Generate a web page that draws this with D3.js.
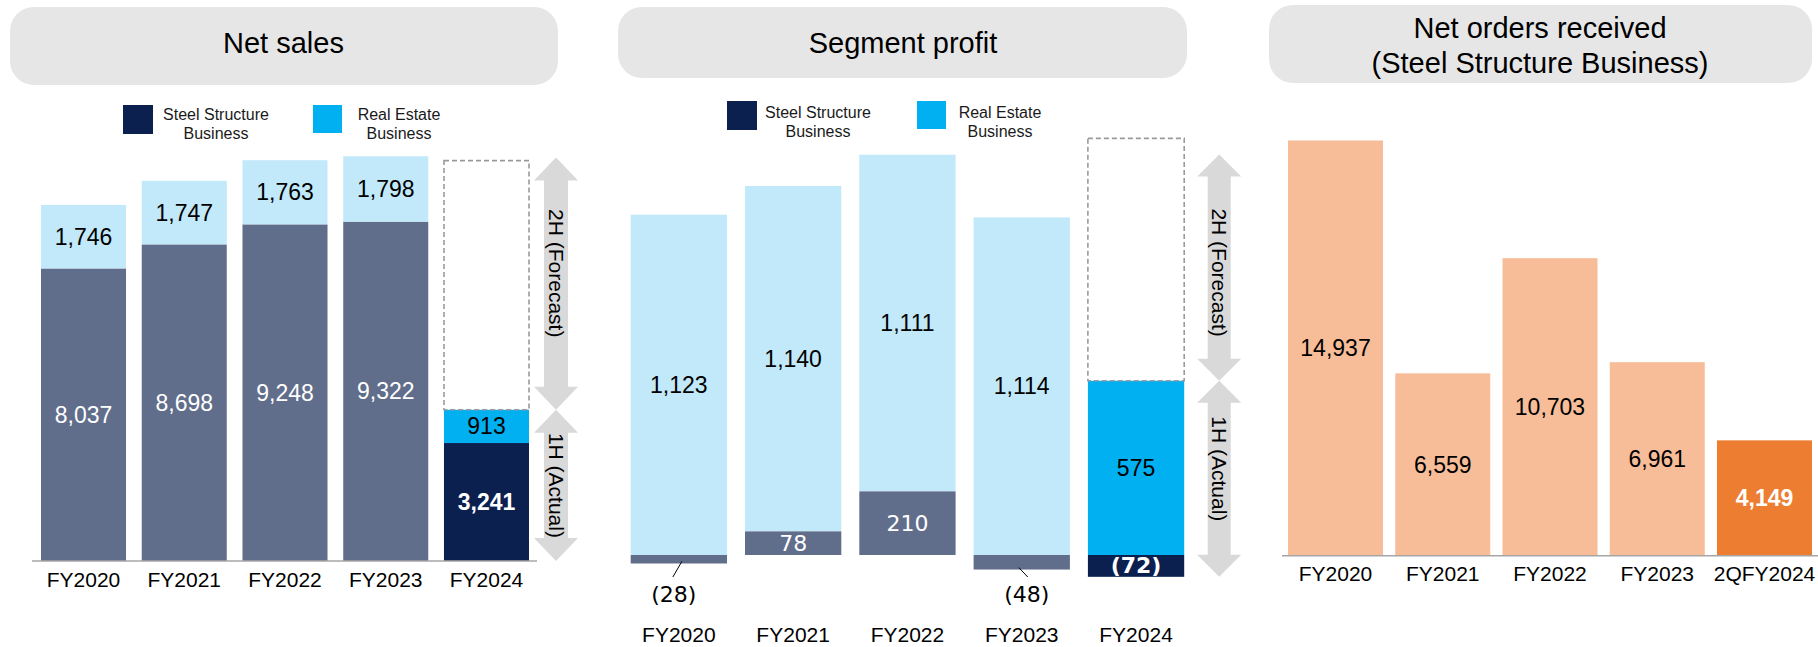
<!DOCTYPE html>
<html><head><meta charset="utf-8">
<script src="https://cdn.jsdelivr.net/npm/d3@7"></script>
<style>
body{margin:0;background:#fff}
svg{display:block;font-family:"Liberation Sans",Arial,sans-serif}
</style>
</head><body>
<svg id="c" width="1818" height="647"></svg>
<script>
// ---------- data ----------
const categories = ["FY2020", "FY2021", "FY2022", "FY2023", "FY2024"];
const salesSteel = [8037, 8698, 9248, 9322, 3241];
const salesRealEstate = [1746, 1747, 1763, 1798, 913];
const salesForecastTotal = 11000;
const profitSteel = [-28, 78, 210, -48, -72];
const profitRealEstate = [1123, 1140, 1111, 1114, 575];
const profitForecastTop = 1375;
const orderCategories = ["FY2020", "FY2021", "FY2022", "FY2023", "2QFY2024"];
const orders = [14937, 6559, 10703, 6961, 4149];
const legendSteel = ["Steel Structure", "Business"];
const legendRealEstate = ["Real Estate", "Business"];
const halfLabels = ["2H (Forecast)", "1H (Actual)"];
const titleSales = ["Net sales"];
const titleProfit = ["Segment profit"];
const titleOrders = ["Net orders received", "(Steel Structure Business)"];

// ---------- styles ----------
const C = {
  steelPast: "#616e8b", rePast: "#c1e9f9",
  steelNow: "#0c2050", reNow: "#00b0f0",
  ordPast: "#f6bd98", ordNow: "#ed7d31",
  box: "#e6e6e6", arrow: "#d9d9d9", axis: "#a6a6a6", dash: "#9a9a9a"
};
const fmt = v => v < 0 ? "(" + d3.format(",")(-v) + ")" : d3.format(",")(v);
const svg = d3.select("#c");
const last = categories.length - 1;

function titleBox(x, y, w, h, cx, lines, lineYs) {
  svg.append("rect").attr("x", x).attr("y", y).attr("width", w).attr("height", h)
    .attr("rx", 24).attr("ry", 24).attr("fill", C.box);
  lines.forEach((t, i) => svg.append("text").attr("x", cx).attr("y", lineYs[i])
    .attr("text-anchor", "middle").attr("dominant-baseline", "central")
    .attr("font-size", 29).attr("fill", "#000").text(t));
}
function legendItem(sx, sy, sw, sh, color, tx, lines, ty) {
  svg.append("rect").attr("x", sx).attr("y", sy).attr("width", sw).attr("height", sh).attr("fill", color);
  lines.forEach((t, i) => svg.append("text").attr("x", tx).attr("y", ty + i * 19)
    .attr("text-anchor", "middle").attr("dominant-baseline", "central")
    .attr("font-size", 16).attr("fill", "#1a1a1a").text(t));
}
function dblArrow(cx, yTop, yBot, shaftW, headW, headL) {
  const s = shaftW / 2, h = headW / 2;
  const pts = [[cx, yTop], [cx + h, yTop + headL], [cx + s, yTop + headL], [cx + s, yBot - headL],
    [cx + h, yBot - headL], [cx, yBot], [cx - h, yBot - headL], [cx - s, yBot - headL],
    [cx - s, yTop + headL], [cx - h, yTop + headL]];
  svg.append("polygon").attr("points", pts.map(p => p.join(",")).join(" ")).attr("fill", C.arrow);
}
function vertLabel(cx, cy, t) {
  svg.append("text").attr("transform", `translate(${cx},${cy}) rotate(90)`)
    .attr("text-anchor", "middle").attr("dominant-baseline", "central")
    .attr("font-size", 21).attr("fill", "#000").text(t);
}
function valueText(g, x, y, t, opts) {
  g.append("text").attr("x", x).attr("y", y)
    .attr("text-anchor", "middle").attr("dominant-baseline", "central")
    .attr("font-size", opts.size || 23).attr("font-weight", opts.bold ? "bold" : null)
    .attr("font-family", opts.family || null)
    .attr("fill", opts.fill || "#000").text(t);
}
function catAxis(x, yPos, offset, lineFrom, lineTo) {
  const g = svg.append("g").attr("transform", `translate(0,${yPos})`)
    .call(d3.axisBottom(x).tickSize(0));
  g.select(".domain").remove();
  g.selectAll("text").attr("y", offset).attr("dy", null)
    .attr("dominant-baseline", "central").attr("font-size", 21)
    .attr("font-family", '"Liberation Sans",Arial,sans-serif').attr("fill", "#000");
  if (lineFrom != null) {
    svg.append("line").attr("x1", lineFrom).attr("x2", lineTo).attr("y1", yPos).attr("y2", yPos)
      .attr("stroke", C.axis).attr("stroke-width", 1.5);
  }
}

// ---------- Panel 1 : Net sales ----------
titleBox(10, 7, 548, 78, 283.5, titleSales, [43]);
legendItem(123, 105, 30, 29, C.steelNow, 216, legendSteel, 114);
legendItem(313, 105, 29, 28, C.reNow, 399, legendRealEstate, 114);

const x1 = d3.scaleBand().domain(categories).range([41, 529]).paddingInner(0.156).paddingOuter(0);
const y1 = d3.scaleLinear().domain([0, 15000]).range([561, 561 - 15000 * 0.0364]);
const g1 = svg.append("g");
categories.forEach((c, i) => {
  const now = i === last;
  const s = salesSteel[i], r = salesRealEstate[i];
  g1.append("rect").attr("x", x1(c)).attr("width", x1.bandwidth())
    .attr("y", y1(s)).attr("height", y1(0) - y1(s)).attr("fill", now ? C.steelNow : C.steelPast);
  g1.append("rect").attr("x", x1(c)).attr("width", x1.bandwidth())
    .attr("y", y1(s + r)).attr("height", y1(s) - y1(s + r)).attr("fill", now ? C.reNow : C.rePast);
  const cx = x1(c) + x1.bandwidth() / 2;
  valueText(g1, cx, (y1(0) + y1(s)) / 2, fmt(s), { fill: "#fff", bold: now });
  valueText(g1, cx, (y1(s) + y1(s + r)) / 2, fmt(r), {});
  if (now) {
    g1.append("rect").attr("x", x1(c)).attr("width", x1.bandwidth())
      .attr("y", y1(salesForecastTotal)).attr("height", y1(s + r) - y1(salesForecastTotal))
      .attr("fill", "none").attr("stroke", C.dash).attr("stroke-width", 1.6).attr("stroke-dasharray", "5,3");
  }
});
{
  const c = categories[last];
  const cx = x1(c) + x1.bandwidth() + 27;
  const act = salesSteel[last] + salesRealEstate[last];
  dblArrow(cx, y1(salesForecastTotal) - 3, y1(act), 24, 44, 23);
  dblArrow(cx, y1(act), y1(0), 24, 44, 23);
  vertLabel(cx, (y1(salesForecastTotal) + y1(act)) / 2 - 12, halfLabels[0]);
  vertLabel(cx, (y1(act) + y1(0)) / 2, halfLabels[1]);
}
catAxis(x1, y1(0), 18, 32, 537);

// ---------- Panel 2 : Segment profit ----------
titleBox(618, 7, 569, 71, 903, titleProfit, [42.5]);
legendItem(727, 101, 30, 29, C.steelNow, 818, legendSteel, 112.7);
legendItem(917, 101, 29, 28, C.reNow, 1000, legendRealEstate, 112.7);

const x2 = d3.scaleBand().domain(categories).range([630.7, 1184.2]).paddingInner(0.1575).paddingOuter(0);
const y2 = d3.scaleLinear().domain([-100, 1500]).range([555 + 100 * 0.303, 555 - 1500 * 0.303]);
const g2 = svg.append("g");
categories.forEach((c, i) => {
  const now = i === last;
  const s = profitSteel[i], r = profitRealEstate[i];
  const base = Math.max(s, 0);
  const cx = x2(c) + x2.bandwidth() / 2;
  g2.append("rect").attr("x", x2(c)).attr("width", x2.bandwidth())
    .attr("y", y2(base + r)).attr("height", y2(base) - y2(base + r)).attr("fill", now ? C.reNow : C.rePast);
  g2.append("rect").attr("x", x2(c)).attr("width", x2.bandwidth())
    .attr("y", y2(Math.max(s, 0))).attr("height", Math.abs(y2(s) - y2(0))).attr("fill", now ? C.steelNow : C.steelPast);
  valueText(g2, cx, (y2(base) + y2(base + r)) / 2, fmt(r), {});
  if (now) {
    valueText(g2, cx, (y2(s) + y2(0)) / 2, fmt(s), { fill: "#fff", bold: true, family: '"DejaVu Sans",Verdana,sans-serif', size: 22 });
    g2.append("rect").attr("x", x2(c)).attr("width", x2.bandwidth())
      .attr("y", y2(profitForecastTop)).attr("height", y2(base + r) - y2(profitForecastTop))
      .attr("fill", "none").attr("stroke", C.dash).attr("stroke-width", 1.6).attr("stroke-dasharray", "5,3");
  } else if (s >= 0) {
    valueText(g2, cx, (y2(s) + y2(0)) / 2, fmt(s), { fill: "#fff", family: '"DejaVu Sans",Verdana,sans-serif', size: 22 });
  } else {
    const dir = i < 2 ? -1 : 1;
    g2.append("line").attr("x1", cx + 3 * -dir).attr("y1", y2(s) - 2)
      .attr("x2", cx + 6 * dir).attr("y2", y2(0) + 22)
      .attr("stroke", "#000").attr("stroke-width", 1);
    valueText(g2, cx + 5 * dir, y2(0) + 39, fmt(s), { family: '"DejaVu Sans",Verdana,sans-serif', size: 22 });
  }
});
{
  const c = categories[last];
  const cx = x2(c) + x2.bandwidth() + 35;
  const act = profitSteel[last] < 0 ? profitRealEstate[last] : profitSteel[last] + profitRealEstate[last];
  dblArrow(cx, y2(profitForecastTop) + 16, y2(act), 23, 44, 22);
  dblArrow(cx, y2(act), y2(profitSteel[last]), 23, 44, 22);
  vertLabel(cx, (y2(profitForecastTop) + 16 + y2(act)) / 2 + 5, halfLabels[0]);
  vertLabel(cx, (y2(act) + y2(profitSteel[last])) / 2 - 10, halfLabels[1]);
}
catAxis(x2, y2(0), 79, null, null);

// ---------- Panel 3 : Net orders received ----------
titleBox(1269, 5, 543, 78, 1540, titleOrders, [28, 62.7]);
const x3 = d3.scaleBand().domain(orderCategories).range([1288, 1812]).paddingInner(0.114).paddingOuter(0);
const y3 = d3.scaleLinear().domain([0, 16000]).range([555.7, 555.7 - 16000 * 0.0278]);
const g3 = svg.append("g");
orderCategories.forEach((c, i) => {
  const now = i === orderCategories.length - 1;
  const v = orders[i];
  g3.append("rect").attr("x", x3(c)).attr("width", x3.bandwidth())
    .attr("y", y3(v)).attr("height", y3(0) - y3(v)).attr("fill", now ? C.ordNow : C.ordPast);
  const cx = x3(c) + x3.bandwidth() / 2;
  valueText(g3, cx, (y3(0) + y3(v)) / 2, fmt(v), { fill: now ? "#fff" : "#000", bold: now });
});
catAxis(x3, y3(0), 17.6, 1282, 1818);
</script>
</body></html>
